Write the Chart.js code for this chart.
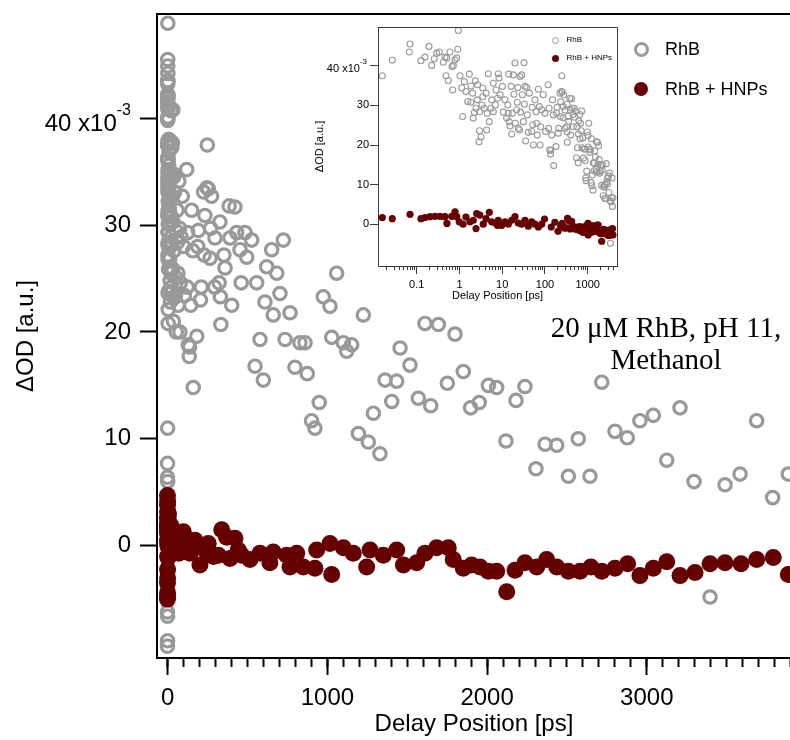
<!DOCTYPE html>
<html>
<head>
<meta charset="utf-8">
<title>RhB transient absorption</title>
<script src="https://cdn.jsdelivr.net/npm/chart.js@4.4.1/dist/chart.umd.min.js"></script>
<style>
  html, body { margin: 0; padding: 0; background: #fff; overflow: hidden; }
  #page { position: relative; width: 790px; height: 740px; overflow: hidden;
          font-family: "Liberation Sans", Arial, sans-serif; color: #000; }
  canvas { position: absolute; }
  #mainChart { left: 0; top: 0; }
  #insetChart { left: 300px; top: 10px; }
  .key { position: absolute; white-space: nowrap; }
  .ring { position: absolute; box-sizing: border-box; border-radius: 50%; border-style: solid; border-color: #999; }
  .dot { position: absolute; border-radius: 50%; background: #660000; }
  #note { position: absolute; left: 516px; top: 311px; width: 300px; text-align: center;
          font: 29px/32px "Liberation Serif", "Times New Roman", serif; }
</style>
</head>
<body>
<div id="page">
  <canvas id="mainChart" width="800" height="740"></canvas>
  <canvas id="insetChart" width="330" height="300"></canvas>

  <!-- main legend -->
  <div class="ring" style="left:633.5px;top:41.5px;width:15px;height:15px;border-width:3.5px"></div>
  <div class="key" style="left:665px;top:40px;font-size:18px;line-height:18px">RhB</div>
  <div class="dot" style="left:634px;top:81.5px;width:14px;height:14px"></div>
  <div class="key" style="left:665px;top:80px;font-size:18px;line-height:18px">RhB + HNPs</div>

  <!-- inset legend -->
  <div class="ring" style="left:551.8px;top:36.8px;width:7px;height:7px;border-width:1.1px"></div>
  <div class="key" style="left:566.5px;top:36px;font-size:8px;line-height:8px">RhB</div>
  <div class="dot" style="left:551.8px;top:55.2px;width:7px;height:7px"></div>
  <div class="key" style="left:566.5px;top:54.3px;font-size:8px;line-height:8px">RhB + HNPs</div>

  <div id="note">20 μM RhB, pH 11,<br>Methanol</div>
</div>

<script>
// RhB only (grey open circles): delay [ps] and ΔOD [x1e-3]
const rhbDelay = [
  -1.8, -1.6, -1.4, -1.2, -1.0, -0.9, -0.8, -0.7, -0.6, -0.5,
  -0.4, -0.3, -0.2, -0.1, 0.0157, 0.0268, 0.0672, 0.0697, 0.126, 0.156,
  0.194, 0.224, 0.258, 0.294, 0.338, 0.419, 0.459, 0.484, 0.503, 0.548,
  0.601, 0.67, 0.695, 0.72, 0.787, 0.863, 0.91, 0.94, 1.03, 1.13,
  1.19, 1.3, 1.42, 1.56, 1.7, 1.86, 1.86, 2.04, 2.11, 2.23,
  2.35, 2.44, 2.62, 2.67, 2.87, 2.92, 2.95, 3.19, 3.37, 3.5,
  3.5, 3.81, 4.19, 4.33, 4.43, 4.73, 5.0, 5.45, 5.68, 6.19,
  6.2, 6.9, 7.16, 7.8, 8.1, 8.4, 8.89, 10.1, 10.6, 11.6,
  12.7, 13.5, 13.9, 14.2, 14.6, 15.2, 16.2, 16.7, 17.2, 18.2,
  18.8, 19.9, 20.4, 21.8, 22.5, 23.2, 23.8, 25.5, 26.1, 26.8,
  28.6, 29.5, 31.3, 32.4, 32.9, 34.1, 35.4, 37.5, 38.7, 40.8,
  43.1, 49.0, 50.5, 52.0, 53.5, 58.5, 62.0, 64.1, 66.0, 70.0,
  74.0, 76.6, 79.0, 83.9, 91.3, 100, 104, 119, 122, 125,
  129, 135, 137, 144, 150, 157, 160, 182, 188, 192,
  205, 210, 225, 228, 233, 246, 248, 254, 265, 269,
  275, 294, 296, 322, 327, 330, 333, 352, 359, 385,
  390, 401, 421, 432, 453, 460, 484, 495, 526, 547,
  557, 578, 599, 609, 620, 651, 661, 683, 703, 724,
  735, 766, 797, 828, 860, 874, 901, 922, 949, 974,
  1016, 1027, 1058, 1100, 1121, 1152, 1194, 1225, 1256, 1288,
  1329, 1361, 1403, 1434, 1455, 1517, 1569, 1611, 1647, 1695,
  1751, 1799, 1851, 1897, 1951, 2008, 2060, 2118, 2181, 2237,
  2306, 2363, 2436, 2509, 2571, 2644, 2718, 2801, 2878, 2957,
  3041, 3125, 3208, 3296, 3396, 3490, 3584, 3688, 3788, 3886
];
const rhbOD = [
  -9.4, 6.4, -6.2, 2.0, -8.9, 7.7, -2.5, 0.8, -6.6, 4.0,
  -4.1, 11.0, 6.0, -1.2, 37.5, 41.4, 43.5, 45.5, 41.3, 42.2,
  44.9, 40.1, 41.8, 43.2, 43.5, 40.9, 42.2, 37.5, 42.0, 36.3,
  43.5, 39.8, 33.9, 40.1, 41.5, 42.0, 44.2, 48.9, 37.5, 34.4,
  27.2, 36.0, 33.5, 31.0, 37.9, 34.9, 30.8, 33.1, 26.8, 28.2,
  36.2, 29.3, 31.4, 35.2, 20.8, 28.4, 23.6, 22.1, 30.1, 34.4,
  32.2, 29.3, 33.1, 23.8, 28.0, 38.0, 25.9, 29.3, 31.4, 35.6,
  28.4, 30.1, 33.9, 31.8, 38.0, 36.9, 32.7, 34.8, 28.3, 31.4,
  26.8, 30.1, 28.0, 37.9, 25.9, 24.8, 34.8, 22.8, 28.0, 37.7,
  32.8, 40.7, 25.5, 28.9, 30.8, 34.5, 24.2, 23.8, 37.3, 28.3,
  37.7, 32.7, 25.9, 40.8, 30.3, 34.8, 21.0, 34.5, 27.6, 23.2,
  33.1, 23.4, 29.5, 25.1, 20.0, 31.4, 28.4, 25.5, 22.5, 34.1,
  29.7, 20.0, 24.6, 28.9, 32.7, 28.0, 23.4, 35.2, 24.2, 29.3,
  18.8, 17.7, 18.6, 22.5, 31.4, 27.6, 14.8, 19.6, 28.0, 29.5,
  23.0, 24.2, 33.1, 27.2, 30.9, 33.5, 37.5, 33.4, 26.9, 29.7,
  32.7, 24.2, 28.8, 24.6, 30.3, 23.3, 20.7, 27.2, 26.0, 31.8,
  28.8, 22.5, 31.7, 29.3, 27.7, 24.6, 29.3, 27.0, 28.6, 16.8,
  24.6, 19.3, 15.5, 22.8, 26.1, 27.7, 21.6, 25.5, 23.6, 28.6,
  19.3, 21.8, 16.7, 19.0, 19.0, 16.1, 11.7, 11.0, 13.4, 23.3,
  22.4, 19.5, 25.5, 19.0, 18.2, 18.8, 10.5, 21.6, 9.7, 12.4,
  8.6, 15.5, 13.5, 15.4, 18.5, 16.9, 13.8, 20.8, 13.1, 20.7,
  15.2, 19.8, 16.3, 12.9, 13.4, 15.0, 14.8, 9.8, 13.6, 14.9,
  7.2, 9.5, 9.4, 6.5, 10.0, 6.5, 15.3, 10.7, 10.1, 11.7,
  12.2, 8.0, 12.9, 6.0, -4.8, 5.7, 6.7, 11.7, 4.5, 6.7
];

// RhB + HNPs (dark red dots)
const hnpDelay = [
  -1.8, -1.6, -1.4, -1.2, -1.0, -0.9, -0.8, -0.7, -0.6, -0.5,
  -0.4, -0.3, -0.2, -0.1, 0.0157, 0.0268, 0.0697, 0.126, 0.156, 0.205,
  0.268, 0.351, 0.459, 0.51, 0.659, 0.787, 0.863, 0.99, 1.22, 1.42,
  1.77, 2.11, 2.44, 2.53, 3.0, 3.6, 4.19, 5.0, 5.68, 6.9,
  7.8, 8.1, 9.73, 11.6, 13.9, 16.7, 19.9, 23.8, 28.6, 34.1,
  40.8, 49, 58.5, 70, 83.9, 98, 140, 171, 202, 233,
  254, 286, 317, 338, 369, 390, 421, 442, 463, 515,
  578, 640, 661, 745, 766, 808, 849, 922, 933, 1016,
  1027, 1100, 1162, 1246, 1267, 1350, 1434, 1476, 1559, 1611,
  1684, 1757, 1788, 1851, 1903, 1956, 2008, 2060, 2123, 2175,
  2237, 2311, 2373, 2436, 2509, 2582, 2650, 2718, 2801, 2880,
  2957, 3041, 3125, 3208, 3302, 3396, 3490, 3590, 3688, 3792,
  3886
];
const hnpOD = [
  -5.0, 4.7, -3.5, 3.8, -4.4, 2.6, -2.2, 1.2, -3.0, 4.2,
  -1.0, 3.2, -4.8, 0.4, 1.7, 1.4, 2.5, 1.4, 1.7, 1.9,
  2.0, 2.0, 1.9, 0.2, 2.0, 3.1, 1.9, 0.6, 0.0, 1.8,
  0.6, 1.0, -1.1, 2.7, 2.3, 0.0, 1.4, 3.0, 0.6, 0.3,
  -0.3, 1.0, -0.3, 0.6, 0.0, 1.0, 1.9, 0.3, 0.0, 1.0,
  -0.5, 0.6, 0.0, -0.7, 0.0, 1.3, -0.7, 0.5, -1.8, -0.4,
  0.2, -1.0, -0.9, 1.5, 0.8, -1.2, 0.7, -0.4, -0.9, -1.3,
  -0.7, -1.6, -0.6, -0.9, -2.0, -0.7, -2.0, -2.1, -0.4, 0.2,
  -2.7, -0.2, -0.7, -2.0, -0.4, -0.9, -0.4, -1.8, -1.6, -0.7,
  -0.2, -0.2, -1.3, -2.1, -1.8, -2.0, -2.4, -2.4, -4.3, -2.3,
  -1.6, -2.0, -1.3, -2.0, -2.4, -2.4, -2.0, -2.4, -2.1, -1.7,
  -2.8, -2.1, -1.5, -2.8, -2.5, -1.7, -1.6, -1.7, -1.3, -1.1,
  -2.7
];

const yTicks = [0, 10, 20, 30, 40];
const mainXTicks = [0, 1000, 2000, 3000];
const insetXTicks = [0.1, 1, 10, 100, 1000];

const GREY = '#999999';
const RED = '#660000';
const INK = '#3a3a3a';

Chart.defaults.font.family = '"Liberation Sans", Arial, sans-serif';
Chart.defaults.color = '#000';

// minor tick positions
const mainMinor = [];
for (let v = 0; v <= 3900; v += 100) mainMinor.push(v);
const insetMinor = [];
for (let e = -2; e <= 3; e++) {
  for (let m = 1; m <= 9; m++) {
    const v = +(m * Math.pow(10, e)).toPrecision(3);
    if (v > 0.0125 && v < 4840) insetMinor.push(v);
  }
}

const pts = (xs, ys, keep) =>
  xs.map((x, i) => ({x, y: ys[i]})).filter(p => !keep || keep(p));

const setTicks = vals => s => { s.ticks = vals.map(value => ({value})); };
const fixBox = (w, h) => s => {
  if (w != null) s.width = w;
  if (h != null) s.height = h;
  s.paddingTop = s.paddingBottom = s.paddingLeft = s.paddingRight = 0;
};

// closes the plot box on the sides chart.js does not draw
const framePlugin = {
  id: 'frame',
  afterDraw(chart, args, o) {
    const {ctx, chartArea: a} = chart;
    ctx.save();
    ctx.strokeStyle = o.color;
    ctx.lineWidth = o.width;
    ctx.beginPath();
    const t = Math.round(a.top) + (o.width % 2 ? 0.5 : 0);
    const r = Math.round(a.right) + (o.width % 2 ? 0.5 : 0);
    ctx.moveTo(a.left - o.width / 2, t);
    ctx.lineTo(r, t);
    if (o.right) ctx.lineTo(r, a.bottom);
    ctx.stroke();
    ctx.restore();
  }
};

// "40 x10^-3" tick label
const sciLabelPlugin = {
  id: 'sciLabel',
  afterDraw(chart, args, o) {
    const s = chart.scales.y, ctx = chart.ctx;
    const y = s.getPixelForValue(o.value);
    const right = s.right - o.offset;
    const fam = Chart.defaults.font.family;
    ctx.save();
    ctx.fillStyle = '#000';
    ctx.textAlign = 'right';
    ctx.textBaseline = 'alphabetic';
    ctx.font = o.supSize + 'px ' + fam;
    ctx.fillText('-3', right, y + o.supDy);
    const w = ctx.measureText('-3').width;
    ctx.font = o.size + 'px ' + fam;
    ctx.fillText(o.value + ' x10', right - w, y + o.dy);
    ctx.restore();
  }
};

const common = {
  responsive: false,
  animation: false,
  events: [],
};

new Chart(document.getElementById('mainChart'), {
  type: 'scatter',
  data: {
    datasets: [
      { label: 'RhB', data: pts(rhbDelay, rhbOD), order: 2,
        pointRadius: 6.2, pointBorderWidth: 3.2,
        pointBorderColor: GREY, pointBackgroundColor: 'rgba(0,0,0,0)' },
      { label: 'RhB + HNPs', data: pts(hnpDelay, hnpOD), order: 1,
        pointRadius: 8.5, pointBorderWidth: 0, pointBackgroundColor: RED }
    ]
  },
  options: {
    ...common,
    layout: { autoPadding: false, padding: { top: 14, right: 9, left: 0, bottom: 0 } },
    plugins: {
      legend: { display: false },
      tooltip: { enabled: false },
      frame: { color: '#000', width: 2, right: true },
      sciLabel: { value: 40, offset: 26, size: 24, supSize: 16, dy: 12.4, supDy: -2.8 }
    },
    scales: {
      x: {
        type: 'linear', position: 'bottom', weight: 1, min: -67, max: 3903,
        afterBuildTicks: setTicks(mainXTicks), afterFit: fixBox(null, 82),
        border: { display: true, color: '#000', width: 2 },
        grid: { drawOnChartArea: false, tickLength: 17, tickWidth: 2, tickColor: '#000' },
        ticks: { padding: 9, font: { size: 24 }, color: '#000', autoSkip: false, maxRotation: 0,
                 callback: v => String(v) },
        title: { display: true, text: 'Delay Position [ps]', font: { size: 24 }, color: '#000',
                 padding: { top: 0, bottom: 1 } }
      },
      xMinor: {
        type: 'linear', position: 'bottom', weight: 0, min: -67, max: 3903,
        afterBuildTicks: setTicks(mainMinor), afterFit: fixBox(null, 0),
        border: { display: false },
        grid: { drawOnChartArea: false, tickLength: 9, tickWidth: 2, tickColor: '#000' },
        ticks: { display: false }
      },
      y: {
        min: -10.51, max: 49.76,
        afterBuildTicks: setTicks(yTicks), afterFit: fixBox(157, null),
        border: { display: true, color: '#000', width: 2 },
        grid: { drawOnChartArea: false, tickLength: 17, tickWidth: 2, tickColor: '#000' },
        ticks: { padding: 9, font: { size: 24 }, color: '#000',
                 callback: v => v === 40 ? '' : String(v) },
        title: { display: true, text: 'ΔOD [a.u.]', font: { size: 24 }, color: '#000',
                 padding: { top: 12, bottom: 0 } }
      }
    }
  },
  plugins: [framePlugin, sciLabelPlugin]
});

// inset: same data on a log delay axis
new Chart(document.getElementById('insetChart'), {
  type: 'scatter',
  data: {
    datasets: [
      { label: 'RhB', data: pts(rhbDelay, rhbOD, p => p.x > 0), order: 2,
        pointRadius: 3, pointBorderWidth: 1.1,
        pointBorderColor: GREY, pointBackgroundColor: 'rgba(0,0,0,0)' },
      { label: 'RhB + HNPs', data: pts(hnpDelay, hnpOD, p => p.x > 0), order: 1,
        pointRadius: 3.6, pointBorderWidth: 0, pointBackgroundColor: RED }
    ]
  },
  options: {
    ...common,
    layout: { autoPadding: false, padding: { top: 17, right: 13, left: 0, bottom: 0 } },
    plugins: {
      legend: { display: false },
      tooltip: { enabled: false },
      frame: { color: INK, width: 1, right: true },
      sciLabel: { value: 40, offset: 11, size: 11, supSize: 8, dy: 5.7, supDy: -2 }
    },
    scales: {
      x: {
        type: 'logarithmic', position: 'bottom', weight: 1, min: 0.01244, max: 4845,
        afterBuildTicks: setTicks(insetXTicks), afterFit: fixBox(null, 44),
        border: { display: true, color: INK, width: 1 },
        grid: { drawOnChartArea: false, tickLength: 8, tickWidth: 1, tickColor: INK },
        ticks: { padding: 4, font: { size: 11 }, color: '#000', autoSkip: false, maxRotation: 0,
                 callback: v => String(v) },
        title: { display: true, text: 'Delay Position [ps]', font: { size: 11 }, color: '#000',
                 padding: { top: 0, bottom: 7 } }
      },
      xMinor: {
        type: 'logarithmic', position: 'bottom', weight: 0, min: 0.01244, max: 4845,
        afterBuildTicks: setTicks(insetMinor), afterFit: fixBox(null, 0),
        border: { display: false },
        grid: { drawOnChartArea: false, tickLength: 4, tickWidth: 1, tickColor: INK },
        ticks: { display: false }
      },
      y: {
        min: -10.55, max: 49.8,
        afterBuildTicks: setTicks(yTicks), afterFit: fixBox(78, null),
        border: { display: true, color: INK, width: 1 },
        grid: { drawOnChartArea: false, tickLength: 8, tickWidth: 1, tickColor: INK },
        ticks: { padding: 1, font: { size: 11 }, color: '#000',
                 callback: v => v === 40 ? '' : String(v) },
        title: { display: true, text: 'ΔOD [a.u.]', font: { size: 11 }, color: '#000',
                 padding: { top: 13, bottom: 0 } }
      }
    }
  },
  plugins: [framePlugin, sciLabelPlugin]
});
</script>
</body>
</html>
